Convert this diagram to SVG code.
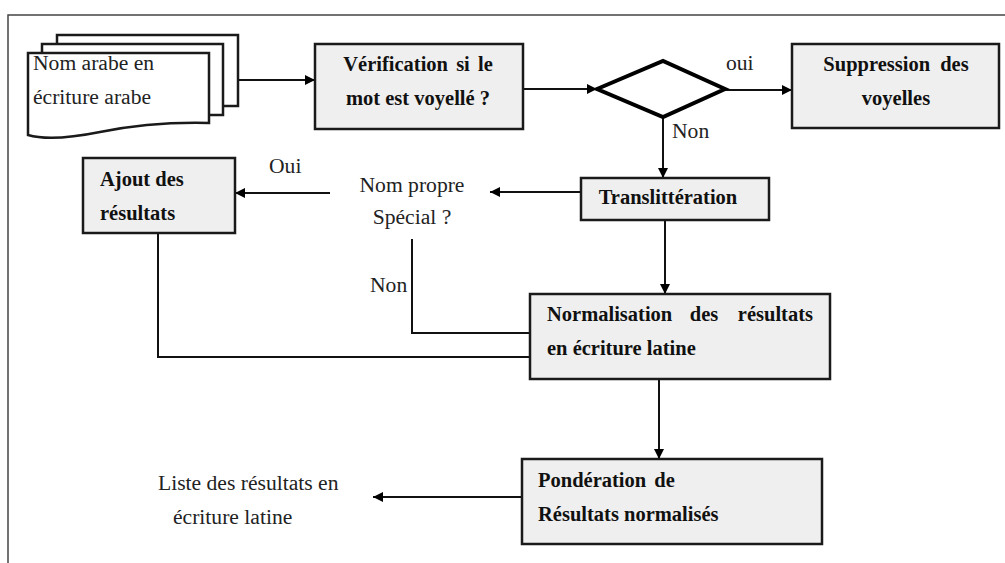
<svg xmlns="http://www.w3.org/2000/svg" width="1005" height="563" viewBox="0 0 1005 563">
<style>
.box{fill:#efefef;stroke:#1a1a1a;stroke-width:2.5}
.pg{fill:#fff;stroke:#1a1a1a;stroke-width:2.5}
.dia{fill:#fff;stroke:#000;stroke-width:4;stroke-linejoin:miter}
.con{fill:none;stroke:#111;stroke-width:2}
.b{font-family:'Liberation Serif','Times New Roman',Times,'DejaVu Serif',serif;font-weight:bold;font-size:20.5px;fill:#111}
.r{font-family:'Liberation Serif','Times New Roman',Times,'DejaVu Serif',serif;font-size:21.6px;fill:#222}
.m{text-anchor:middle}
.e{text-anchor:end}
</style>
<defs>
<marker id="ah" viewBox="0 0 10 10" refX="10" refY="5" markerWidth="10" markerHeight="10" markerUnits="userSpaceOnUse" orient="auto">
<path d="M0,0 L10,5 L0,10 Z" fill="#000"/>
</marker>
</defs>
<rect width="1005" height="563" fill="#fff"/>
<g id="frame">
<path d="M8,563 L8,15 L1005,15" fill="none" stroke="#444" stroke-width="1.5"/>
</g>
<g id="connectors">
<line class="con" x1="238" y1="80" x2="315" y2="80" marker-end="url(#ah)"/>
<line class="con" x1="523" y1="89" x2="597" y2="89" marker-end="url(#ah)"/>
<line class="con" x1="725" y1="90" x2="792" y2="90" marker-end="url(#ah)"/>
<line class="con" x1="663" y1="117" x2="663" y2="178" marker-end="url(#ah)"/>
<line class="con" x1="581" y1="192" x2="490" y2="192" marker-end="url(#ah)"/>
<line class="con" x1="330" y1="193" x2="235" y2="193" marker-end="url(#ah)"/>
<polyline class="con" points="412,239 412,333 530,333"/>
<polyline class="con" points="158,233 158,357 530,357"/>
<line class="con" x1="665" y1="220" x2="665" y2="294" marker-end="url(#ah)"/>
<line class="con" x1="659" y1="379" x2="659" y2="459" marker-end="url(#ah)"/>
<line class="con" x1="522" y1="497" x2="373" y2="497" marker-end="url(#ah)"/>
<text class="r" x="726" y="70">oui</text>
<text class="r" x="672" y="138">Non</text>
<text class="r" x="269" y="173">Oui</text>
<text class="r" x="370" y="292">Non</text>
</g>
<g id="doc">
<rect class="pg" x="57" y="35" width="181" height="71"/>
<rect class="pg" x="42" y="44" width="181" height="71"/>
<path class="pg" d="M28,53 L209,53 L209,123 C170,122 130,126 100,132 C70,138 45,140 28,135 Z"/>
<text class="r" x="33" y="70">Nom arabe en</text>
<text class="r" x="33" y="104">écriture arabe</text>
</g>
<g id="verif">
<rect class="box" x="315" y="44" width="208" height="85"/>
<text class="b m" x="418" y="71" word-spacing="3">Vérification si le</text>
<text class="b m" x="418" y="105">mot est voyellé ?</text>
</g>
<g id="decision">
<polygon class="dia" points="597,89 663,61 725,89 663,117"/>
</g>
<g id="suppression">
<rect class="box" x="792" y="44" width="207" height="84"/>
<text class="b m" x="896" y="71" word-spacing="5">Suppression des</text>
<text class="b m" x="896" y="105">voyelles</text>
</g>
<g id="translit">
<rect class="box" x="581" y="178" width="188" height="42"/>
<text class="b m" x="668" y="204">Translittération</text>
</g>
<g id="nompropre">
<text class="r m" x="412" y="192">Nom propre</text>
<text class="r m" x="412" y="224">Spécial ?</text>
</g>
<g id="ajout">
<rect class="box" x="83" y="158" width="152" height="75"/>
<text class="b" x="100" y="186">Ajout des</text>
<text class="b" x="100" y="220">résultats</text>
</g>
<g id="normalisation">
<rect class="box" x="530" y="294" width="300" height="85"/>
<text class="b" x="547" y="321">Normalisation</text>
<text class="b m" x="704" y="321">des</text>
<text class="b e" x="813" y="321">résultats</text>
<text class="b" x="547" y="355">en écriture latine</text>
</g>
<g id="ponderation">
<rect class="box" x="522" y="459" width="300" height="85"/>
<text class="b" x="538" y="487" word-spacing="3">Pondération de</text>
<text class="b" x="538" y="521">Résultats normalisés</text>
</g>
<g id="liste">
<text class="r" x="158" y="490">Liste des résultats en</text>
<text class="r" x="173" y="524">écriture latine</text>
</g>
</svg>
